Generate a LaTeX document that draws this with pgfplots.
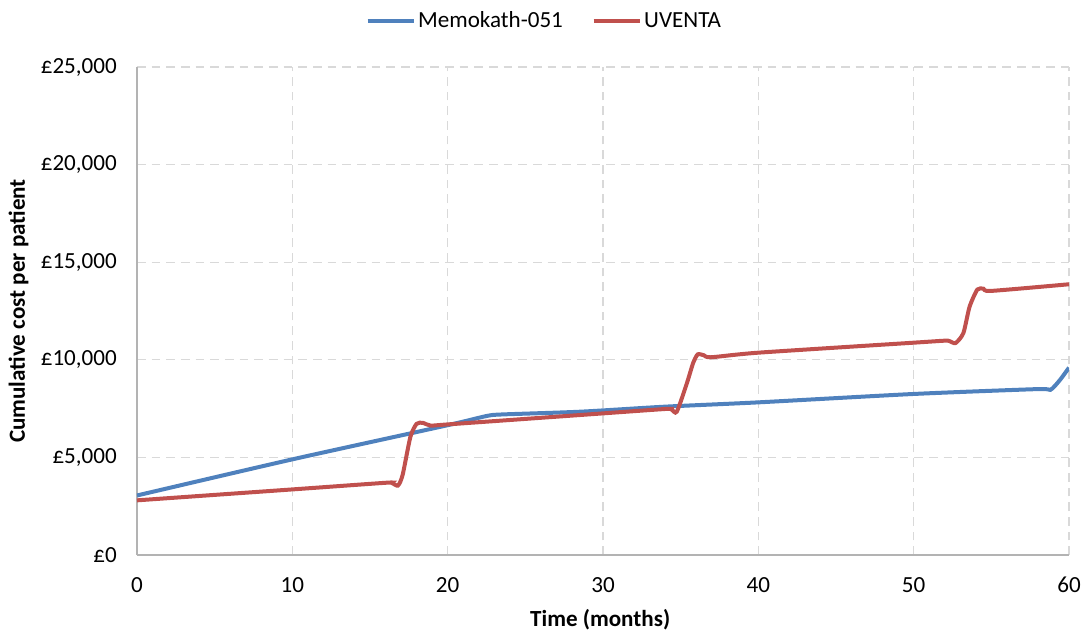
\documentclass[border=0pt]{standalone}
\usepackage{pgfplots}
\pgfplotsset{compat=1.18}
\usepackage{fontspec}
\setmainfont{Carlito}
\definecolor{cblue}{HTML}{4F81BD}
\definecolor{cred}{HTML}{C0504D}
\definecolor{cgrid}{HTML}{D9D9D9}
\definecolor{caxis}{HTML}{B3B3B3}
\begin{document}
\begin{tikzpicture}
\path[use as bounding box] (-102.75pt,-58.5pt) rectangle (714pt,416.25pt);
\begin{axis}[
  at={(0pt,0pt)}, anchor=origin,
  scale only axis, width=699pt, height=366pt,
  xmin=0, xmax=60, ymin=0, ymax=25000,
  scaled y ticks=false, scaled x ticks=false,
  xtick={0,10,...,60}, ytick={0,5000,...,25000},
  xticklabels={0,10,20,30,40,50,60},
  yticklabels={£0,{£5,000},{£10,000},{£15,000},{£20,000},{£25,000}},
  font=\fontsize{17.3pt}{20pt}\selectfont,
  xticklabel style={anchor=center, yshift=-22.5pt},
  yticklabel style={anchor=east, inner sep=0pt, xshift=-15pt},
  major tick length=0pt,
  axis x line=bottom, axis y line=left,
  axis line style={draw=caxis, line width=0.9pt, -},
  grid=major,
  major grid style={draw=cgrid, dash pattern=on 6.5pt off 4.5pt, line width=1pt},
  xlabel={\bfseries Time (months)},
  ylabel={\bfseries Cumulative cost per patient},
  xlabel style={at={(axis description cs:0.497,-0.133)}, anchor=center},
  ylabel style={at={(axis description cs:-0.127,0.5)}, anchor=center},
  legend style={at={(0.437,1.095)}, anchor=center, draw=none, fill=none,
    legend columns=2, inner sep=0pt,
    /tikz/every even column/.append style={column sep=20pt},
    nodes={inner sep=1.5pt},
    font=\fontsize{17.3pt}{20pt}\selectfont},
  legend image code/.code={\draw[#1] (0pt,0pt) -- (35pt,0pt);},
  every axis plot/.append style={line width=3pt, smooth, tension=0.4},
]
\addplot[cblue] coordinates {
(0,3050) (10,4900) (20,6650) (22.5,7120) (23.5,7200) (28.5,7340) (34,7600) (40,7820) (50,8250) (58,8500) (58.8,8460) (59.4,8950) (60,9600)
};
\addlegendentry{Memokath-051}
\addplot[cred] coordinates {
(0,2800) (10,3360) (16,3700) (16.4,3690) (16.8,3560) (17.1,4100) (17.6,6050) (18.0,6720) (18.4,6770) (18.9,6630) (20,6690) (28.5,7170) (34,7480) (34.4,7460) (34.75,7340) (35.4,8800) (35.8,9830) (36.1,10280) (36.5,10230) (36.95,10130) (40,10365) (50,10877) (52.0,10980) (52.3,10960) (52.7,10860) (53.2,11370) (53.6,12720) (54.1,13600) (54.5,13640) (55.0,13530) (60,13870)
};
\addlegendentry{UVENTA}
\end{axis}
\end{tikzpicture}
\end{document}
